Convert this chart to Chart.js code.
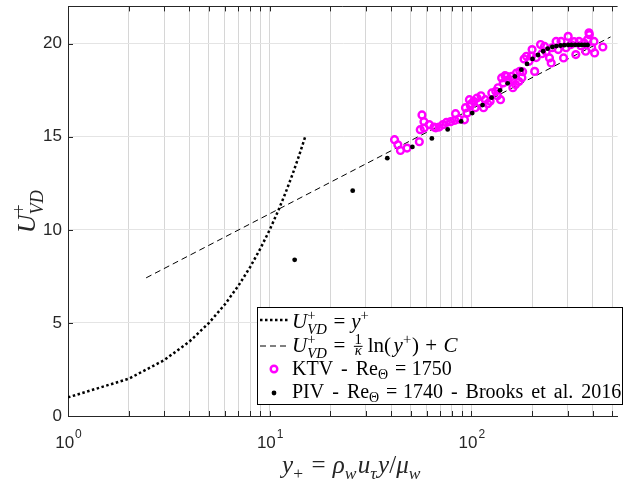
<!DOCTYPE html>
<html>
<head>
<meta charset="utf-8">
<script src="https://cdn.jsdelivr.net/npm/chart.js@4.4.1/dist/chart.umd.min.js"></script>
<style>
  html, body { margin: 0; padding: 0; background: #fff; }
  #wrap { width: 624px; height: 480px; }
</style>
</head>
<body>
<div id="wrap"><canvas id="profile" width="624" height="480"></canvas></div>
<script>
"use strict";

// viscous sublayer, U+ = y+
const sublayerY = [1, 2, 3, 4, 5, 6, 7, 8, 9, 10, 11, 12, 13, 14, 15];
const sublayerU = [1, 2, 3, 4, 5, 6, 7, 8, 9, 10, 11, 12, 13, 14, 15];

// log law, straight on a log axis so the two ends are enough
const logLawY = [2.44, 490];
const logLawU = [7.42, 20.36];

// PIV, Re_theta = 1740 (Brooks et al. 2016)
const pivY = [13.3, 25.8, 38.3, 51, 63.7, 76.3, 89, 101, 113.6, 126, 138.7, 151.4, 164.4, 177, 188.8,
  201, 214, 227, 239, 252, 264, 277, 289, 302, 314, 327, 340, 352, 365, 377];
const pivU = [8.39, 12.1, 13.85, 14.45, 14.91, 15.39, 15.82, 16.27, 16.7, 17.1, 17.49, 17.87, 18.24, 18.6, 18.91,
  19.18, 19.39, 19.59, 19.73, 19.82, 19.87, 19.9, 19.92, 19.93, 19.93, 19.93, 19.93, 19.93, 19.93, 19.93];

// KTV, Re_theta = 1750
const ktvY = [41.6, 43.2, 44.5, 48.0, 55.2, 56.9, 55.8, 58.3, 61.8, 65.3, 69.2, 72.3, 75.2, 83.5, 82.8,
  86.6, 92.4, 95.3, 97.8, 98.9, 102.6, 106.7, 111.6, 117.2, 123.9, 126.3, 132.1, 141.3, 143.9, 149.6,
  158.4, 167.4, 165.6, 173.9, 182.5, 187.6, 193.2, 198.5, 206, 220.3, 230.5, 223.7, 243.9, 248.8, 263.1,
  278.5, 286.6, 302, 311.6, 329.6, 342, 362, 384.6, 405.5, 408.4, 448.7, 178, 104.5, 109.7, 114.9,
  120.5, 134.6, 139.5, 152.4, 160.6, 172, 179.6, 200, 209.8, 235, 251.5, 269.5, 294.8, 323, 349,
  377, 395, 369, 383, 93.5, 100, 135.6, 146.8, 160.7, 58.2, 66.6, 78.9];
const ktvU = [14.84, 14.57, 14.26, 14.39, 14.73, 16.17, 15.38, 15.47, 15.65, 15.52, 15.52, 15.65, 15.77, 16.24, 15.88,
  15.95, 15.91, 16.27, 16.99, 16.67, 16.9, 17.08, 17.2, 16.99, 16.9, 17.35, 17.44, 18.16, 17.89, 18.24,
  18.24, 18.42, 17.8, 18.51, 19.18, 19.32, 19.05, 19.32, 18.51, 19.95, 19.85, 19.46, 19.23, 18.96, 20.12,
  20.12, 19.23, 20.39, 19.95, 19.41, 20.12, 20.04, 20.48, 20.12, 19.5, 19.82, 18.17, 16.56, 16.83, 16.56,
  16.77, 17.2, 16.99, 18.06, 17.63, 17.96, 18.49, 19.68, 19.25, 19.57, 19.78, 19.68, 19.78, 20.11, 19.89,
  20.22, 19.78, 19.59, 20.58, 16.56, 16.77, 17.63, 18.28, 18.06, 15.81, 15.48, 15.81];

// axes
const xGridValues = [1, 2, 3, 4, 5, 6, 7, 8, 9, 10, 20, 30, 40, 50, 60, 70, 80, 90, 100, 200, 300, 400, 500];
const xLabelValues = [1, 10, 100];
const yTickValues = [0, 5, 10, 15, 20];

const AXIS_COLOR = "#262626";
const SERIF = "'Liberation Serif', 'DejaVu Serif', serif";
const SANS = "'Liberation Sans', Arial, sans-serif";
const SPACE_EXTRA = 0.15; // wider inter-word space, in em

function toPoints(xs, ys) {
  return xs.map((v, i) => ({ x: v, y: ys[i] }));
}

// --- small math-text typesetter (italic, sub/superscripts, fractions) ---
const sup = (t, it) => ({ t, it, k: 0.7, dy: -0.38, padR: 0.04 });
const sub = (t, it) => ({ t, it, k: 0.7, dy: 0.22, padR: 0.06 });
const subUnder = (t, it) => ({ t, it, k: 0.7, dy: 0.3, under: true, padR: 0.04 });
const rel = t => ({ t, pad: 0.28 });
const bin = t => ({ t, pad: 0.3 });

function fontFor(r, size) {
  return (r.it ? "italic " : "") + (size * (r.k || 1)).toFixed(1) + "px " + SERIF;
}

function layoutMath(ctx, runs, size) {
  let x = 0, lastStart = 0;
  const placed = [];
  runs.forEach(r => {
    if (r.frac) {
      const fs = size * 0.7;
      ctx.font = fs.toFixed(1) + "px " + SERIF;
      const wn = ctx.measureText(r.frac[0]).width;
      ctx.font = "italic " + fs.toFixed(1) + "px " + SERIF;
      const wd = ctx.measureText(r.frac[1]).width;
      const w = Math.max(wn, wd) + size * 0.16;
      placed.push({ frac: r.frac, x: x + size * 0.08, w: w, fs: fs });
      lastStart = x;
      x += w + size * 0.16;
      return;
    }
    const pad = (r.pad || 0) * size;
    ctx.font = fontFor(r, size);
    const start = r.under ? lastStart : x + pad;
    // draw word by word so spaces can be widened
    let cx = start;
    r.t.split(/( )/).forEach(tok => {
      if (tok === "") return;
      if (tok === " ") {
        cx += ctx.measureText(" ").width + SPACE_EXTRA * size;
        return;
      }
      placed.push({ t: tok, font: ctx.font, x: cx, dy: (r.dy || 0) * size });
      cx += ctx.measureText(tok).width;
    });
    lastStart = start;
    x = Math.max(x, cx + pad + (r.padR || 0) * size);
  });
  return { placed, width: x };
}

function drawMath(ctx, runs, size, x, y, align) {
  const lay = layoutMath(ctx, runs, size);
  const x0 = align === "center" ? x - lay.width / 2 : x;
  ctx.textAlign = "left";
  ctx.textBaseline = "alphabetic";
  lay.placed.forEach(p => {
    if (p.frac) {
      const bar = y - size * 0.27;
      const cx = x0 + p.x + p.w / 2;
      ctx.textAlign = "center";
      ctx.font = p.fs.toFixed(1) + "px " + SERIF;
      ctx.fillText(p.frac[0], cx, bar - size * 0.1);
      ctx.font = "italic " + p.fs.toFixed(1) + "px " + SERIF;
      ctx.fillText(p.frac[1], cx, bar + size * 0.42);
      ctx.textAlign = "left";
      ctx.fillRect(x0 + p.x + 1, bar - 0.5, p.w - 2, 1);
      return;
    }
    ctx.font = p.font;
    ctx.fillText(p.t, x0 + p.x, y + p.dy);
  });
  return lay.width;
}

const uvd = [{ t: "U", it: true }, sup("+"), subUnder("VD", true)];

const legendRows = [
  { kind: "dotted", size: 21, runs: uvd.concat([rel("="), { t: "y", it: true }, sup("+")]) },
  { kind: "dashed", size: 21, runs: uvd.concat([rel("="), { frac: ["1", "κ"] }, { t: "ln(", pad: 0.12 },
      { t: "y", it: true }, sup("+"), { t: ")" }, bin("+"), { t: "C", it: true }]) },
  { kind: "circle", size: 20, runs: [{ t: "KTV - Re" }, sub("Θ"), rel("="), { t: "1750" }] },
  { kind: "dot", size: 20, runs: [{ t: "PIV - Re" }, sub("Θ"), rel("="), { t: "1740 - Brooks et al. 2016" }] }
];

const xTitle = [{ t: "y", it: true }, sub("+"), rel("="), { t: "ρ", it: true }, sub("w", true),
  { t: "u", it: true }, sub("τ", true), { t: "y", it: true }, { t: "/" }, { t: "μ", it: true }, sub("w", true)];

// frame, inward ticks, labels, titles and the legend box
const axisDecor = {
  id: "axisDecor",
  afterDraw(chart) {
    const { ctx, chartArea: a } = chart;
    const xs = chart.scales.x;
    const ys = chart.scales.y;
    ctx.save();

    ctx.strokeStyle = AXIS_COLOR;
    ctx.lineWidth = 1;
    ctx.beginPath();
    ctx.moveTo(a.left, Math.round(a.top) + 0.5);
    ctx.lineTo(a.right, Math.round(a.top) + 0.5);
    xGridValues.forEach(v => {
      const px = Math.round(xs.getPixelForValue(v)) + 0.5;
      ctx.moveTo(px, a.bottom);
      ctx.lineTo(px, a.bottom - 5);
      ctx.moveTo(px, a.top);
      ctx.lineTo(px, a.top + 5);
    });
    yTickValues.forEach(v => {
      const py = Math.round(ys.getPixelForValue(v)) + 0.5;
      ctx.moveTo(a.left, py);
      ctx.lineTo(a.left + 5, py);
    });
    ctx.stroke();

    // tick labels
    ctx.fillStyle = AXIS_COLOR;
    ctx.font = "17px " + SANS;
    ctx.textAlign = "right";
    ctx.textBaseline = "middle";
    yTickValues.forEach(v => ctx.fillText(String(v), a.left - 6, ys.getPixelForValue(v)));

    xLabelValues.forEach(v => {
      const px = xs.getPixelForValue(v);
      const e = String(Math.round(Math.log10(v)));
      ctx.font = "17px " + SANS;
      const w1 = ctx.measureText("10").width;
      ctx.font = "12px " + SANS;
      const w2 = ctx.measureText(e).width;
      const left = px - (w1 + w2) / 2;
      ctx.textAlign = "left";
      ctx.textBaseline = "alphabetic";
      ctx.font = "17px " + SANS;
      ctx.fillText("10", left, a.bottom + 32);
      ctx.font = "12px " + SANS;
      ctx.fillText(e, left + w1 + 1, a.bottom + 22);
    });

    // axis titles
    drawMath(ctx, xTitle, 25, (a.left + 624) / 2 + 6, 473, "center");
    ctx.save();
    ctx.translate(35, (a.top + a.bottom) / 2);
    ctx.rotate(-Math.PI / 2);
    drawMath(ctx, uvd, 26, 0, 0, "center");
    ctx.restore();

    // legend
    const box = { left: 257.5, top: 307.5, right: 622.5, bottom: 404.5 };
    ctx.fillStyle = "#fff";
    ctx.fillRect(box.left, box.top, box.right - box.left, box.bottom - box.top);
    ctx.strokeStyle = "#000";
    ctx.lineWidth = 1;
    ctx.strokeRect(box.left, box.top, box.right - box.left, box.bottom - box.top);
    const rowY = [320, 346, 369, 393];
    const textY = [328, 352, 375, 398];
    legendRows.forEach((row, i) => {
      const yy = rowY[i];
      ctx.strokeStyle = "#000";
      if (row.kind === "dotted" || row.kind === "dashed") {
        ctx.lineWidth = row.kind === "dotted" ? 2.5 : 1;
        ctx.setLineDash(row.kind === "dotted" ? [2.5, 2.5] : [6, 4]);
        ctx.beginPath();
        ctx.moveTo(260, yy);
        ctx.lineTo(290, yy);
        ctx.stroke();
        ctx.setLineDash([]);
      } else if (row.kind === "circle") {
        ctx.strokeStyle = "#ff00ff";
        ctx.lineWidth = 2.4;
        ctx.beginPath();
        ctx.arc(274, yy, 3.3, 0, Math.PI * 2);
        ctx.stroke();
      } else {
        ctx.fillStyle = "#000";
        ctx.beginPath();
        ctx.arc(274, yy, 2.4, 0, Math.PI * 2);
        ctx.fill();
      }
      ctx.fillStyle = "#000";
      drawMath(ctx, row.runs, row.size, 292, textY[i], "left");
    });
    ctx.restore();
  }
};

const ctx = document.getElementById("profile").getContext("2d");
const profileChart = new Chart(ctx, {
  type: "scatter",
  data: {
    datasets: [
      {
        label: "PIV",
        data: toPoints(pivY, pivU),
        pointRadius: 2.4,
        pointBorderWidth: 0,
        pointBackgroundColor: "#000",
        pointBorderColor: "#000",
        order: 0
      },
      {
        label: "KTV",
        data: toPoints(ktvY, ktvU),
        pointRadius: 3.4,
        pointBorderWidth: 2.4,
        pointBorderColor: "#ff00ff",
        pointBackgroundColor: "rgba(0,0,0,0)",
        order: 1
      },
      {
        label: "log law",
        data: toPoints(logLawY, logLawU),
        showLine: true,
        borderColor: "#000",
        borderWidth: 1,
        borderDash: [6, 4],
        pointRadius: 0,
        order: 2
      },
      {
        label: "sublayer",
        data: toPoints(sublayerY, sublayerU),
        showLine: true,
        borderColor: "#000",
        borderWidth: 2.5,
        borderDash: [2.5, 2.5],
        pointRadius: 0,
        order: 3
      }
    ]
  },
  options: {
    responsive: false,
    animation: false,
    devicePixelRatio: 1,
    layout: { padding: { top: 6, left: 0, right: 0, bottom: 0 } },
    plugins: { legend: { display: false }, tooltip: { enabled: false } },
    scales: {
      x: {
        type: "logarithmic",
        min: 1,
        max: 531,
        afterBuildTicks: s => { s.ticks = xGridValues.map(v => ({ value: v })); },
        afterFit: s => { s.height = 64; },
        ticks: { display: false },
        grid: { color: "#d6d6d6", drawTicks: false },
        border: { color: AXIS_COLOR, width: 1 }
      },
      y: {
        min: 0,
        max: 22,
        afterBuildTicks: s => { s.ticks = yTickValues.map(v => ({ value: v })); },
        afterFit: s => { s.width = 68; },
        ticks: { display: false },
        grid: { color: "#e4e4e4", drawTicks: false },
        border: { color: AXIS_COLOR, width: 1 }
      }
    }
  },
  plugins: [axisDecor]
});
</script>
</body>
</html>
